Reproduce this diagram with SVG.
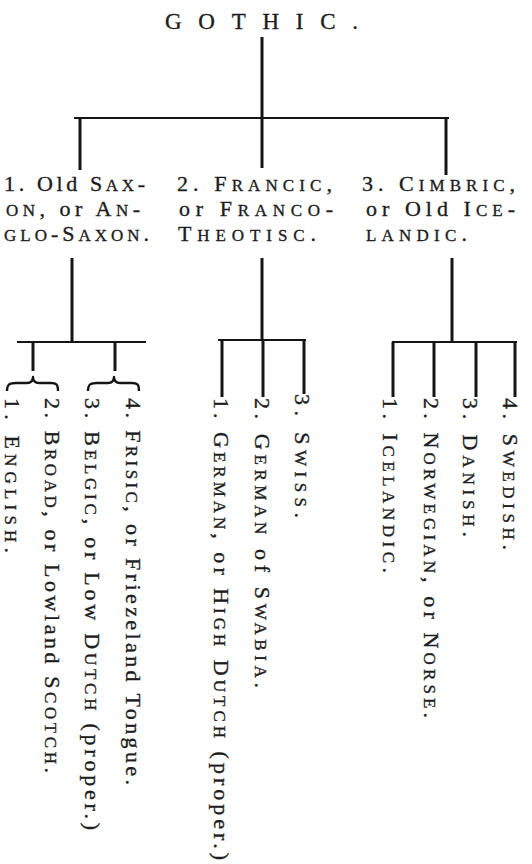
<svg xmlns="http://www.w3.org/2000/svg" width="532" height="864" viewBox="0 0 532 864">
<style>
text{font-family:"Liberation Serif","DejaVu Serif",serif;fill:#1d1d1d;stroke:#1d1d1d;stroke-width:0.35;}
.t{font-size:23px;}
.h{font-size:22px;}
.r{font-size:22px;}
.sc{font-variant:small-caps;font-size:1.1em;}
.ln{stroke:#151515;fill:none;stroke-linecap:butt;}
.thick{stroke-width:3;}
.thin{stroke-width:2;}
.brace{stroke:#151515;fill:none;stroke-width:2.4;stroke-linejoin:round;}
</style>
<rect width="532" height="864" fill="#ffffff"/>
<g id="connectors">
<path class="ln thick" d="M262,37 V168"/>
<path class="ln thin" d="M74,118 H449"/>
<path class="ln thick" d="M80,118 V170"/>
<path class="ln thick" d="M446,118 V175"/>
<path class="ln thick" d="M72,258 V342"/>
<path class="ln thin" d="M17,342 H146"/>
<path class="ln thick" d="M33,342 V371"/>
<path class="ln thick" d="M115,342 V371"/>
<path class="brace" d="M7,391 C7,384 10,383 16,383 L27,383 C31,383 33,381 33,377 C33,381 35,383 39,383 L51,383 C56,383 58,384 58,391"/>
<path class="brace" d="M88,391 C88,384 91,383 97,383 L108,383 C112,383 114,381 114,377 C114,381 116,383 120,383 L132,383 C137,383 139,384 139,391"/>
<path class="ln thick" d="M262,258 V340"/>
<path class="ln thin" d="M218,340 H306"/>
<path class="ln thick" d="M222,340 V397"/>
<path class="ln thick" d="M263,340 V397"/>
<path class="ln thick" d="M304,340 V394"/>
<path class="ln thick" d="M452,258 V342"/>
<path class="ln thin" d="M392,342 H517"/>
<path class="ln thick" d="M393,342 V397"/>
<path class="ln thick" d="M434,342 V397"/>
<path class="ln thick" d="M476,342 V397"/>
<path class="ln thick" d="M515,342 V397"/>
</g>
<g id="gothic">
<text class="t" x="165" y="29" textLength="193" lengthAdjust="spacing">GOTHIC.</text>
</g>
<g id="old-saxon">
<text class="h" x="4" y="191" textLength="141" lengthAdjust="spacing">1. Old S<tspan class="sc">ax</tspan>-</text>
<text class="h" x="6" y="216" textLength="134" lengthAdjust="spacing"><tspan class="sc">on</tspan>, or A<tspan class="sc">n</tspan>-</text>
<text class="h" x="4" y="241" textLength="145" lengthAdjust="spacing"><tspan class="sc">glo</tspan>-S<tspan class="sc">axon</tspan>.</text>
</g>
<g id="francic">
<text class="h" x="177" y="191" textLength="155" lengthAdjust="spacing">2. F<tspan class="sc">rancic</tspan>,</text>
<text class="h" x="179" y="216" textLength="154" lengthAdjust="spacing">or F<tspan class="sc">ranco</tspan>-</text>
<text class="h" x="178" y="241" textLength="138" lengthAdjust="spacing">T<tspan class="sc">heotisc</tspan>.</text>
</g>
<g id="cimbric">
<text class="h" x="362" y="191" textLength="153" lengthAdjust="spacing">3. C<tspan class="sc">imbric</tspan>,</text>
<text class="h" x="366" y="216" textLength="149" lengthAdjust="spacing">or Old I<tspan class="sc">ce</tspan>-</text>
<text class="h" x="366" y="241" textLength="101" lengthAdjust="spacing"><tspan class="sc">landic</tspan>.</text>
</g>
<g id="english">
<text class="r" transform="translate(5,398) rotate(90)" textLength="155" lengthAdjust="spacing">1. E<tspan class="sc">nglish</tspan>.</text>
</g>
<g id="broad-scotch">
<text class="r" transform="translate(45,398) rotate(90)" textLength="375" lengthAdjust="spacing">2. B<tspan class="sc">road</tspan>, or Lowland S<tspan class="sc">cotch</tspan>.</text>
</g>
<g id="belgic">
<text class="r" transform="translate(85,398) rotate(90)" textLength="432" lengthAdjust="spacing">3. B<tspan class="sc">elgic</tspan>, or Low D<tspan class="sc">utch</tspan> (proper.)</text>
</g>
<g id="frisic">
<text class="r" transform="translate(126,398) rotate(90)" textLength="387" lengthAdjust="spacing">4. F<tspan class="sc">risic</tspan>, or Friezeland Tongue.</text>
</g>
<g id="high-dutch">
<text class="r" transform="translate(214,398) rotate(90)" textLength="462" lengthAdjust="spacing">1. G<tspan class="sc">erman</tspan>, or H<tspan class="sc">igh</tspan> D<tspan class="sc">utch</tspan> (proper.)</text>
</g>
<g id="swabia">
<text class="r" transform="translate(255,398) rotate(90)" textLength="290" lengthAdjust="spacing">2. G<tspan class="sc">erman</tspan> of S<tspan class="sc">wabia</tspan>.</text>
</g>
<g id="swiss">
<text class="r" transform="translate(295,394) rotate(90)" textLength="124" lengthAdjust="spacing">3. S<tspan class="sc">wiss</tspan>.</text>
</g>
<g id="icelandic">
<text class="r" transform="translate(383,398) rotate(90)" textLength="175" lengthAdjust="spacing">1. I<tspan class="sc">celandic</tspan>.</text>
</g>
<g id="norwegian">
<text class="r" transform="translate(424,398) rotate(90)" textLength="320" lengthAdjust="spacing">2. N<tspan class="sc">orwegian</tspan>, or N<tspan class="sc">orse</tspan>.</text>
</g>
<g id="danish">
<text class="r" transform="translate(463,398) rotate(90)" textLength="139" lengthAdjust="spacing">3. D<tspan class="sc">anish</tspan>.</text>
</g>
<g id="swedish">
<text class="r" transform="translate(503,398) rotate(90)" textLength="152" lengthAdjust="spacing">4. S<tspan class="sc">wedish</tspan>.</text>
</g>
</svg>
